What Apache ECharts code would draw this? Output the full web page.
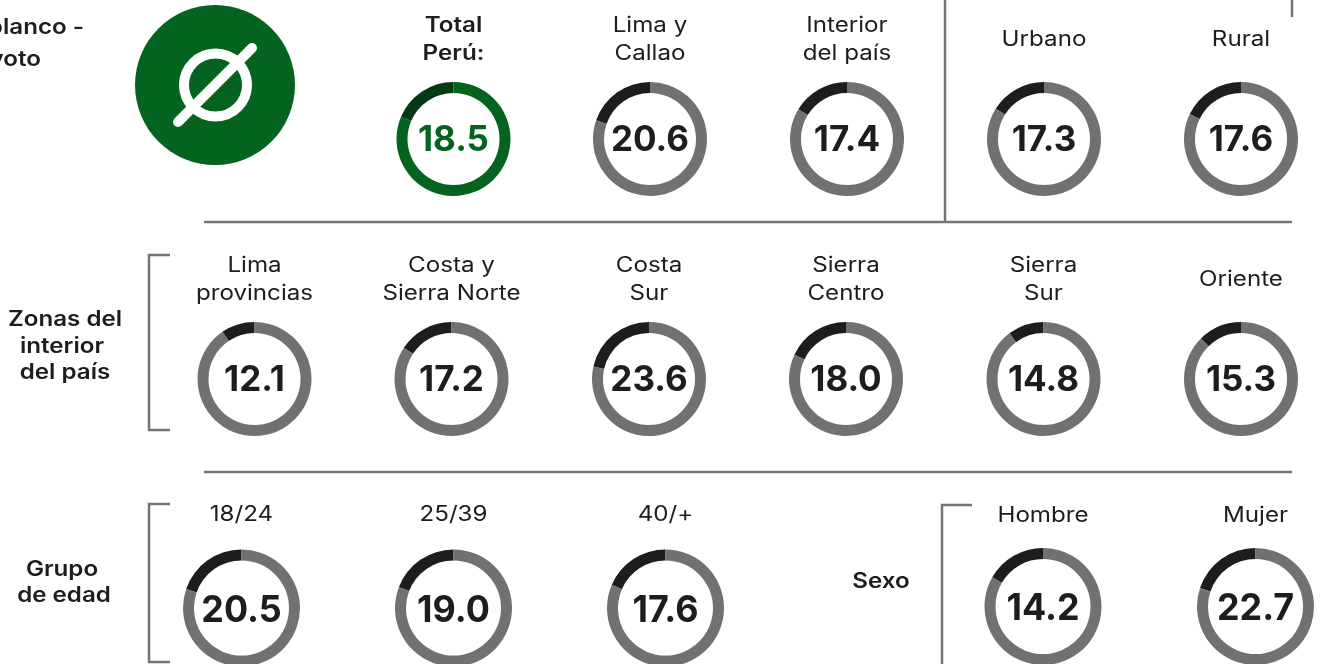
<!DOCTYPE html>
<html>
<head>
<meta charset="utf-8">
<title>Voto blanco</title>
<script src="https://cdn.jsdelivr.net/npm/echarts@6/dist/echarts.min.js"></script>
<style>
  html, body { margin: 0; padding: 0; background: #fff; overflow: hidden; }
  #chart { width: 1325px; height: 664px; }
</style>
</head>
<body>
<div id="chart"></div>
<script>
const FONT = 'Inter, "Open Sans", sans-serif';

// printed numbers and labels
const rowOneLabels = [['Total', 'Perú:'], ['Lima y', 'Callao'], ['Interior', 'del país'], ['Urbano'], ['Rural']];
const rowOneValues = [18.5, 20.6, 17.4, 17.3, 17.6];
const zoneLabels = [['Lima', 'provincias'], ['Costa y', 'Sierra Norte'], ['Costa', 'Sur'], ['Sierra', 'Centro'], ['Sierra', 'Sur'], ['Oriente']];
const zoneValues = [12.1, 17.2, 23.6, 18.0, 14.8, 15.3];
const ageLabels = [['18/24'], ['25/39'], ['40/+']];
const ageValues = [20.5, 19.0, 17.6];
const sexLabels = [['Hombre'], ['Mujer']];
const sexValues = [14.2, 22.7];

// the dark arcs in the picture are not quite the printed number, so their share is read separately
const rowOneArcs = [18.6, 19.7, 16.3, 16.1, 17.8];
const zoneArcs = [9.5, 15.8, 21.5, 18.0, 10.2, 12.4];
const ageArcs = [19.7, 19.2, 18.5];
const sexArcs = [16.7, 19.9];

const GREEN = '#04631f';
const GREEN_DARK = '#033a13';
const GREY = '#717171';
const DARK = '#1d1d1b';
const RULE = '#757575';
const WIDEN = 1.15; // Montserrat-ish width

// layout, kept apart from the values
const rows = [
  { labels: rowOneLabels, values: rowOneValues, arcs: rowOneArcs, xs: [453.5, 650, 847, 1044, 1241], cy: 139, r: 57, inner: 46, size: 35, stretch: 1, textY: 140, labelY: 40 },
  { labels: zoneLabels, values: zoneValues, arcs: zoneArcs, xs: [254.5, 451.5, 649, 846, 1043.5, 1241], cy: 379, r: 57, inner: 46, size: 35, stretch: 1, textY: 380, labelY: 279.5 },
  { labels: ageLabels, values: ageValues, arcs: ageArcs, xs: [241.5, 453.5, 665.5], cy: 608, r: 58.5, inner: 47.5, size: 37, stretch: 0.97, textY: 611, labelY: 515 },
  { labels: sexLabels, values: sexValues, arcs: sexArcs, xs: [1043, 1255.5], cy: 606.5, r: 58.5, inner: 47.5, size: 37, stretch: 0.97, textY: 609, labelY: 516 },
];

function donut(arc, x, row, highlight) {
  return {
    type: 'pie',
    center: [x, row.cy],
    radius: [row.inner, row.r],
    startAngle: 90,
    clockwise: false,
    silent: true,
    animation: false,
    label: { show: false },
    labelLine: { show: false },
    data: [
      { value: arc, itemStyle: { color: highlight ? GREEN_DARK : DARK } },
      { value: 100 - arc, itemStyle: { color: highlight ? GREEN : GREY } },
    ],
  };
}

function text(str, x, y, opts = {}) {
  return {
    type: 'text',
    x,
    y,
    scaleX: opts.stretch || WIDEN,
    silent: true,
    style: {
      text: str,
      fontFamily: FONT,
      fontSize: opts.size || 21,
      fontWeight: opts.weight || 400,
      fill: opts.color || DARK,
      align: opts.align || 'center',
      verticalAlign: 'middle',
    },
  };
}

function polyline(points) {
  return {
    type: 'polyline',
    silent: true,
    shape: { points },
    style: { stroke: RULE, lineWidth: 2.5, fill: 'none' },
  };
}

const series = [];
const graphics = [];

rows.forEach((row, r) => {
  row.values.forEach((value, i) => {
    const highlight = r === 0 && i === 0;
    series.push(donut(row.arcs[i], row.xs[i], row, highlight));
    graphics.push(text(value.toFixed(1), row.xs[i], row.textY, {
      size: row.size,
      weight: 700,
      stretch: row.stretch,
      color: highlight ? GREEN : DARK,
    }));
    const lines = row.labels[i];
    lines.forEach((line, j) => {
      const y = row.labelY + (lines.length === 2 ? (j === 0 ? -14 : 14) : 0);
      graphics.push(text(line, row.xs[i], y, { weight: highlight ? 600 : 400 }));
    });
  });
});

// side titles
graphics.push(
  text('blanco -', 84, 28, { align: 'right', weight: 600 }),
  text('voto', 41, 60, { align: 'right', weight: 600 }),
  text('Zonas del', 65, 320, { weight: 600 }),
  text('interior', 62, 347, { weight: 600 }),
  text('del país', 65, 373, { weight: 600 }),
  text('Grupo', 62, 570, { weight: 600 }),
  text('de edad', 64, 596, { weight: 600 }),
  text('Sexo', 881, 582, { weight: 600 })
);

// rules and brackets
graphics.push(
  polyline([[204, 222], [1292, 222]]),
  polyline([[204, 472], [1292, 472]]),
  polyline([[945, 0], [945, 222]]),
  polyline([[1292, 0], [1292, 17]]),
  polyline([[170, 255], [149, 255], [149, 430], [170, 430]]),
  polyline([[170, 504], [149, 504], [149, 662], [170, 662]]),
  polyline([[972, 505], [942, 505], [942, 664]])
);

// empty-ballot icon
graphics.push(
  { type: 'circle', silent: true, shape: { cx: 215, cy: 85, r: 80 }, style: { fill: GREEN } },
  { type: 'circle', silent: true, shape: { cx: 215.5, cy: 85, r: 31.5 }, style: { fill: 'none', stroke: '#fff', lineWidth: 10 } },
  { type: 'line', silent: true, shape: { x1: 178, y1: 122, x2: 252, y2: 48 }, style: { stroke: '#fff', lineWidth: 10, lineCap: 'round' } }
);

const chart = echarts.init(document.getElementById('chart'));
chart.setOption({
  backgroundColor: '#fff',
  animation: false,
  series,
  graphic: graphics,
});
</script>
</body>
</html>
